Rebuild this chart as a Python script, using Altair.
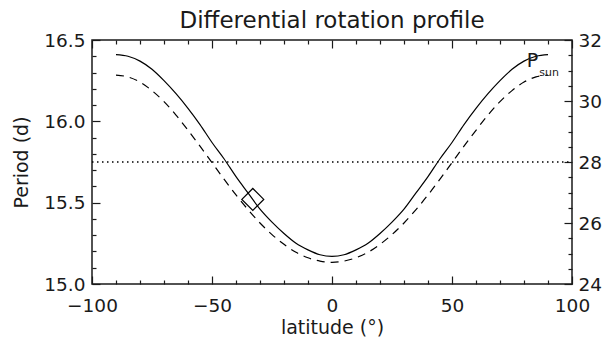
import altair as alt
import pandas as pd

# ---- data ----
lat = [-90, -85, -80, -75, -70, -65, -60, -55, -50, -45, -40, -35, -30, -25, -20, -15, -10, -5,
       0, 5, 10, 15, 20, 25, 30, 35, 40, 45, 50, 55, 60, 65, 70, 75, 80, 85, 90]
period_star = [16.41, 16.40, 16.37, 16.32, 16.25, 16.17, 16.08, 15.98, 15.87, 15.77, 15.66, 15.56,
               15.46, 15.38, 15.31, 15.25, 15.21, 15.18,
               15.17,
               15.18, 15.21, 15.25, 15.31, 15.38, 15.46, 15.56, 15.66, 15.77, 15.87, 15.98,
               16.08, 16.17, 16.25, 16.32, 16.37, 16.40, 16.41]
period_sun = [30.85, 30.79, 30.62, 30.34, 29.98, 29.54, 29.04, 28.52, 27.98, 27.44, 26.92, 26.44,
              26.00, 25.62, 25.30, 25.04, 24.86, 24.75,
              24.71,
              24.75, 24.86, 25.04, 25.30, 25.62, 26.00, 26.44, 26.92, 27.44, 27.98, 28.52,
              29.04, 29.54, 29.98, 30.34, 30.62, 30.79, 30.85]
marker_lat = [-33.0]
marker_period = [15.52]
dotted_level = [28.0]          # right-axis units
label_text = ["P", "sun"]
label_lat = [83.5, 90.5]
label_val = [31.30, 30.93]     # right-axis units
label_size = [19, 11]

x_major = [-100, -50, 0, 50, 100]
x_minor = [-90, -80, -70, -60, -40, -30, -20, -10, 10, 20, 30, 40, 60, 70, 80, 90]
yl_major = [15.0, 15.5, 16.0, 16.5]
yl_minor = [15.1, 15.2, 15.3, 15.4, 15.6, 15.7, 15.8, 15.9, 16.1, 16.2, 16.3, 16.4]
yr_major = [24, 26, 28, 30, 32]
yr_minor = [24.5, 25, 25.5, 26.5, 27, 27.5, 28.5, 29, 29.5, 30.5, 31, 31.5]

FONT = "DejaVu Sans"
INK = "#1a1a1a"
MAJ, MIN = 8, 4

curves = pd.DataFrame({"lat": lat, "star": period_star, "sun": period_sun})
marker = pd.DataFrame({"lat": marker_lat, "p": marker_period})
dotted = pd.DataFrame({"v": dotted_level})
labels = pd.DataFrame({"t": label_text, "lat": label_lat, "v": label_val, "s": label_size})

xs = alt.Scale(domain=[-100, 100], nice=False, zero=False)
yl = alt.Scale(domain=[15.0, 16.5], nice=False, zero=False)
yr = alt.Scale(domain=[24, 32], nice=False, zero=False)


def ax(orient, values, size, labels=False, title=None, fmt=None, pad=7, tpad=10):
    kw = dict(orient=orient, values=values, tickSize=size, offset=-size, domain=False,
              grid=False, labels=labels, tickColor=INK, tickWidth=1.2,
              labelFont=FONT, labelFontSize=18.5, labelColor=INK, labelPadding=pad,
              titleFont=FONT, titleFontSize=19, titleColor=INK, titleFontWeight="normal",
              titlePadding=tpad, labelFlush=False, labelOverlap=False)
    kw["title"] = title if title is not None else None
    if fmt is not None:
        kw["format"] = fmt
    return alt.Axis(**kw)


solid = alt.Chart(curves).mark_line(color="black", strokeWidth=1.2, interpolate="monotone").encode(
    x=alt.X("lat:Q", scale=xs, axis=ax("bottom", x_major, MAJ, labels=True, title="latitude (°)", pad=12, tpad=4)),
    y=alt.Y("star:Q", scale=yl, axis=ax("left", yl_major, MAJ, labels=True, title="Period (d)", fmt=".1f", pad=7, tpad=12)),
)

diamond = alt.Chart(marker).mark_point(shape="diamond", size=480, filled=False, color="black",
                                       strokeWidth=1.2, opacity=1).encode(
    x=alt.X("lat:Q", scale=xs, axis=ax("bottom", x_minor, MIN)),
    y=alt.Y("p:Q", scale=yl, axis=ax("left", yl_minor, MIN)),
)

dashed = alt.Chart(curves).mark_line(color="black", strokeWidth=1.2, strokeDash=[8, 6],
                                     interpolate="monotone").encode(
    x=alt.X("lat:Q", scale=xs, axis=ax("top", x_major, MAJ)),
    y=alt.Y("sun:Q", scale=yr, axis=ax("right", yr_major, MAJ, labels=True, pad=6)),
)

dots = alt.Chart(dotted).mark_rule(color="black", strokeWidth=1.3, strokeDash=[1.5, 3.5]).encode(
    x=alt.X(datum=-100, scale=xs, axis=ax("top", x_minor, MIN)),
    x2=alt.X2(datum=100),
    y=alt.Y("v:Q", scale=yr, axis=ax("right", yr_minor, MIN)),
)

text = alt.Chart(labels).mark_text(font=FONT, color=INK, align="center", baseline="middle").encode(
    x=alt.X("lat:Q", scale=xs, axis=None),
    y=alt.Y("v:Q", scale=yr, axis=None),
    text="t:N",
    size=alt.Size("s:Q", scale=None, legend=None),
)

chart = (
    alt.layer(solid, diamond, dashed, dots, text)
    .resolve_scale(y="independent")
    .resolve_axis(x="independent", y="independent")
    .properties(
        width=480,
        height=244,
        title=alt.TitleParams("Differential rotation profile", font=FONT, fontSize=23,
                              fontWeight="normal", color=INK, anchor="middle",
                              frame="group", baseline="alphabetic", offset=11, dy=31),
        autosize=alt.AutoSizeParams(type="none"),
        padding={"left": 92, "top": 40, "right": 34, "bottom": 61},
        background="white",
    )
    .configure_view(stroke=INK, strokeWidth=1.5)
)

chart.save("out.html", embed_options={"renderer": "svg", "actions": False})
